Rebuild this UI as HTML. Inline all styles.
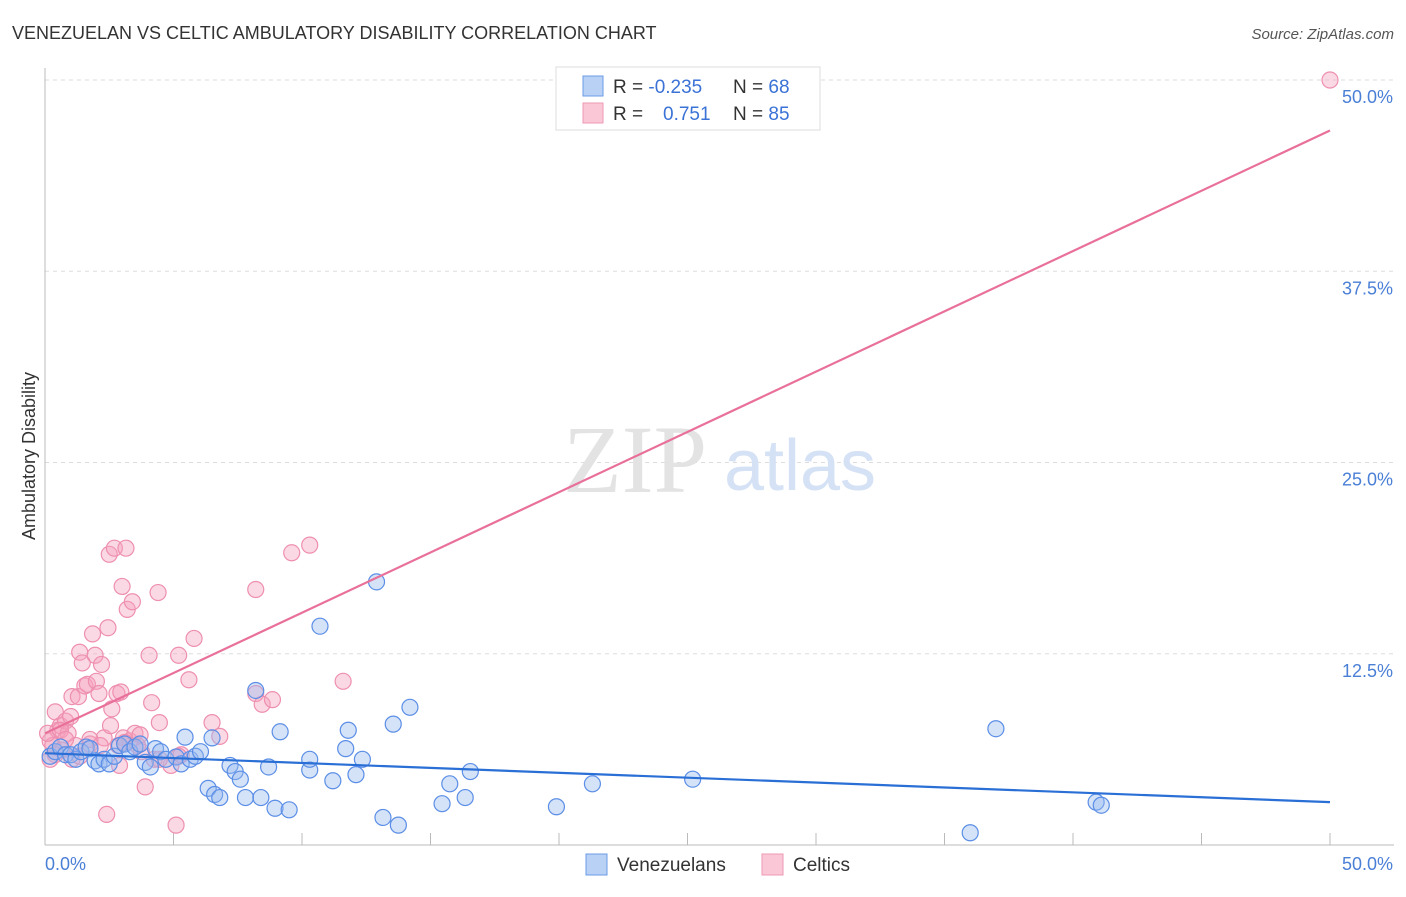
<!DOCTYPE html>
<html><head><meta charset="utf-8"><style>
body{margin:0;background:#fff;font-family:"Liberation Sans",sans-serif;}
</style></head><body>
<svg width="1406" height="892" font-family="Liberation Sans, sans-serif">
<text x="12" y="39" font-size="18" fill="#333">VENEZUELAN VS CELTIC AMBULATORY DISABILITY CORRELATION CHART</text>
<text x="1394" y="39" font-size="15" fill="#555" text-anchor="end" font-style="italic">Source: ZipAtlas.com</text>
<g id="grid"></g>
<text x="635" y="492" font-size="96" fill="#e3e3e3" font-family="Liberation Serif, serif" text-anchor="middle">ZIP</text>
<text x="800" y="490" font-size="72" fill="#d5e2f5" text-anchor="middle">atlas</text>
<g id="pts"></g>
<g id="lines"></g>
<text x="35" y="456" font-size="18" fill="#333" text-anchor="middle" transform="rotate(-90 35 456)">Ambulatory Disability</text>
<text x="45" y="870" font-size="18" fill="#4a7fd6">0.0%</text>
<text x="1393" y="870" font-size="18" fill="#4a7fd6" text-anchor="end">50.0%</text>
<g>
<rect x="556" y="67" width="264" height="63" fill="#fff" stroke="#ddd"/>
<rect x="583" y="76" width="20" height="20" fill="#b9d1f5" stroke="#6b9be6"/>
<rect x="583" y="103" width="20" height="20" fill="#f9c7d6" stroke="#ee98b4"/>
<text x="613" y="93" font-size="19" fill="#333">R = <tspan fill="#3a72d6">-0.235</tspan><tspan x="733">N = </tspan><tspan fill="#3a72d6">68</tspan></text>
<text x="613" y="120" font-size="19" fill="#333">R = <tspan x="663" fill="#3a72d6">0.751</tspan><tspan x="733">N = </tspan><tspan fill="#3a72d6">85</tspan></text>
</g>
<g>
<rect x="586" y="854" width="21" height="21" fill="#b9d1f5" stroke="#6b9be6"/>
<text x="617" y="871" font-size="19" fill="#333">Venezuelans</text>
<rect x="762" y="854" width="21" height="21" fill="#f9c7d6" stroke="#ee98b4"/>
<text x="793" y="871" font-size="19" fill="#333">Celtics</text>
</g>
</svg>
<script>
const yTicks=[12.5,25,37.5,50];
const yTickLabels=["12.5%","25.0%","37.5%","50.0%"];
const xTicks=[0,5,10,15,20,25,30,35,40,45,50];
const blueX=[0.2,0.4,0.6,0.8,1,1.2,1.4,1.6,1.75,1.95,2.1,2.3,2.5,2.7,2.9,3.1,3.3,3.5,3.7,3.9,4.1,4.3,4.5,4.7,5.1,5.3,5.45,5.65,5.85,6.05,6.35,6.5,6.6,6.8,7.2,7.4,7.6,7.8,8.2,8.4,8.7,8.95,9.15,9.5,10.3,10.3,10.7,11.2,11.7,11.8,12.1,12.35,12.9,13.15,13.55,13.75,14.2,15.45,15.75,16.35,16.55,19.9,21.3,25.2,36.0,37.0,40.9,41.1];
const blueY=[5.8,6.1,6.4,5.9,5.9,5.6,6.1,6.4,6.3,5.5,5.3,5.6,5.3,5.8,6.5,6.6,6.1,6.4,6.6,5.4,5.1,6.3,6.1,5.6,5.75,5.3,7.05,5.6,5.8,6.1,3.7,7.0,3.3,3.1,5.2,4.8,4.3,3.1,10.1,3.1,5.1,2.4,7.4,2.3,4.9,5.6,14.3,4.2,6.3,7.5,4.6,5.6,17.2,1.8,7.9,1.3,9.0,2.7,4.0,3.1,4.8,2.5,4.0,4.3,0.8,7.6,2.8,2.6];
const pinkX=[0.2,0.3,0.4,0.5,0.6,0.65,0.8,0.9,1.0,1.05,1.2,1.3,1.35,1.45,1.55,1.65,1.75,1.85,1.95,2.0,2.1,2.2,2.3,2.4,2.45,2.5,2.55,2.6,2.7,2.8,2.9,2.95,3.0,3.05,3.15,3.2,3.3,3.4,3.5,3.6,3.75,3.9,4.05,4.15,4.25,4.4,4.45,4.9,5.1,5.2,5.3,5.6,5.8,6.5,6.8,8.2,8.2,8.45,8.85,9.6,10.3,11.6,0.1,0.2,0.4,0.6,0.8,1.05,1.35,1.75,2.15,2.85,3.1,3.7,4.45,5.2,50];
const pinkY=[6.8,6.5,8.7,7.5,7.8,6.2,8.1,7.3,8.4,9.7,6.5,9.7,12.6,11.9,10.4,10.5,6.6,13.8,12.4,10.7,9.9,11.8,7.0,2.0,14.2,19.0,7.8,8.9,19.4,9.9,5.2,10.0,16.9,7.0,19.4,15.4,6.8,15.9,7.3,6.5,6.1,3.8,12.4,9.3,5.6,16.5,8.0,5.2,1.3,12.4,5.9,10.8,13.5,8.0,7.1,9.9,16.7,9.2,9.5,19.1,19.6,10.7,7.3,5.6,5.9,7.5,6.9,5.6,5.8,6.9,6.5,6.5,6.7,7.2,5.6,5.8,50];
const blueTrend=[6.0,2.8];
const pinkTrend=[7.3,46.7];
const X=v=>45+v*25.7, Y=v=>845-v*15.3;
const NS="http://www.w3.org/2000/svg";
function mk(t,a,p){const e=document.createElementNS(NS,t);for(const k in a)e.setAttribute(k,a[k]);p.appendChild(e);return e;}
const grid=document.getElementById('grid');
yTicks.forEach((t,i)=>{
 const l=mk('line',{x1:45,x2:1394,y1:Y(t),y2:Y(t),stroke:'#ddd','stroke-dasharray':'4,4'},grid);
 
 
 const tx=mk('text',{x:1393,y:Y(t)+23,'font-size':18,fill:'#4a7fd6','text-anchor':'end'},grid);
 tx.textContent=yTickLabels[i];
 
 
});
const ax=mk('line',{x1:45,x2:1394,y1:845,y2:845,stroke:'#bbb'},grid);


const ay=mk('line',{x1:45,x2:45,y1:68,y2:845,stroke:'#bbb'},grid);


xTicks.forEach(t=>{const l=mk('line',{x1:X(t),x2:X(t),y1:845,y2:833,stroke:'#bbb'},grid);
 
 });
const pts=document.getElementById('pts');
pinkX.forEach((x,i)=>{const c=mk('circle',{cx:X(x),cy:Y(pinkY[i]),r:8,fill:'rgba(244,160,188,0.4)',stroke:'#ee8fb0','stroke-width':1.2},pts);
 
 });
blueX.forEach((x,i)=>{const c=mk('circle',{cx:X(x),cy:Y(blueY[i]),r:8,fill:'rgba(150,185,240,0.4)',stroke:'#5b8ee6','stroke-width':1.2},pts);
 
 });
const lines=document.getElementById('lines');
const bl=mk('line',{x1:X(0),x2:X(50),y1:Y(blueTrend[0]),y2:Y(blueTrend[1]),stroke:'#2a6fd6','stroke-width':2.2},lines);


const pl=mk('line',{x1:X(0),x2:X(50),y1:Y(pinkTrend[0]),y2:Y(pinkTrend[1]),stroke:'#e8709a','stroke-width':2.2},lines);


</script>
</body></html>
